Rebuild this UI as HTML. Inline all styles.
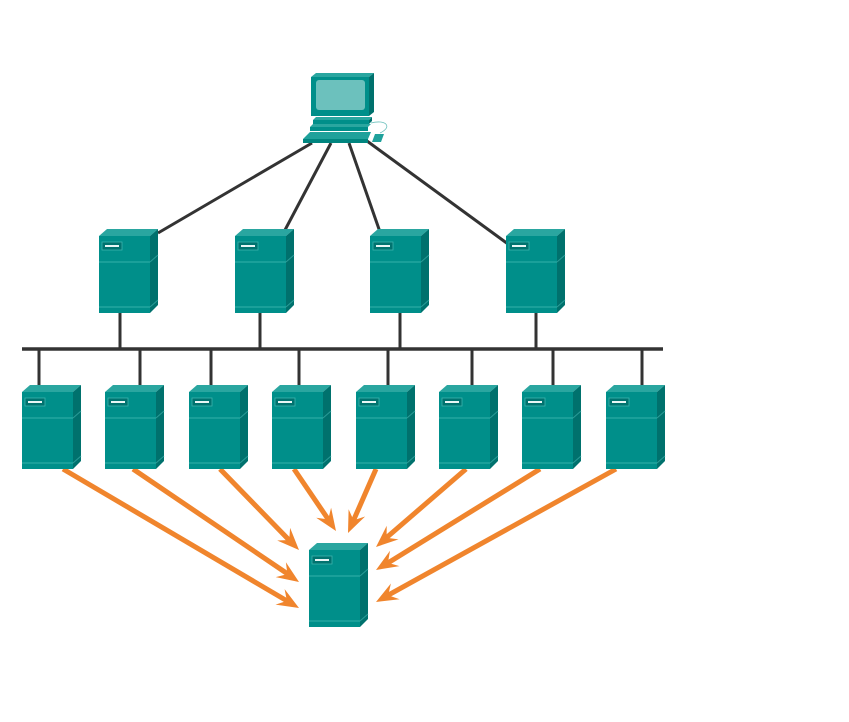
<!DOCTYPE html>
<html><head><meta charset="utf-8"><style>html,body{margin:0;padding:0;background:#fff}svg{display:block}</style></head>
<body>
<svg width="849" height="722" viewBox="0 0 849 722" xmlns="http://www.w3.org/2000/svg">
<defs>
<g id="srv">
  <polygon points="0,7 8,0 59,0 51,7" fill="#2aa6a0"/>
  <polygon points="51,7 59,0 59,76 51,84" fill="#00716d"/>
  <rect x="0" y="7" width="51" height="77" fill="#008f8a"/>
  <line x1="0" y1="33" x2="51" y2="33" stroke="#35b0aa" stroke-width="1"/>
  <line x1="51" y1="33" x2="59" y2="26" stroke="#2a9c97" stroke-width="1"/>
  <line x1="0" y1="78" x2="51" y2="78" stroke="#35b0aa" stroke-width="1"/>
  <line x1="51" y1="78" x2="59" y2="71" stroke="#2a9c97" stroke-width="1"/>
  <rect x="3" y="13" width="20" height="8" fill="#00736f" stroke="#3db3ad" stroke-width="0.8"/>
  <rect x="6" y="16" width="14" height="2" fill="#e8f6f5"/>
</g>
</defs>

<!-- dark connections -->
<g stroke="#333" stroke-width="3" fill="none">
  <line x1="312" y1="143" x2="158" y2="233"/>
  <line x1="331" y1="143" x2="285" y2="230"/>
  <line x1="349" y1="143" x2="380" y2="232"/>
  <line x1="367" y1="141" x2="508" y2="244"/>
  <line x1="22" y1="349" x2="663" y2="349" stroke-width="3.5"/>
  <line x1="120" y1="310" x2="120" y2="349"/>
  <line x1="260" y1="310" x2="260" y2="349"/>
  <line x1="400" y1="310" x2="400" y2="349"/>
  <line x1="536" y1="310" x2="536" y2="349"/>
  <line x1="39" y1="349" x2="39" y2="390"/>
  <line x1="140" y1="349" x2="140" y2="390"/>
  <line x1="211" y1="349" x2="211" y2="390"/>
  <line x1="299" y1="349" x2="299" y2="390"/>
  <line x1="388" y1="349" x2="388" y2="390"/>
  <line x1="472" y1="349" x2="472" y2="390"/>
  <line x1="553" y1="349" x2="553" y2="390"/>
  <line x1="642" y1="349" x2="642" y2="390"/>
</g>

<!-- orange arrows -->
<g stroke="#f0852d" stroke-width="5" fill="none">
  <line x1="63" y1="469" x2="288" y2="601.5"/>
  <line x1="133" y1="469" x2="288.5" y2="574.5"/>
  <line x1="220" y1="469" x2="290" y2="541"/>
  <line x1="294" y1="469" x2="329" y2="520.5"/>
  <line x1="376" y1="469" x2="353" y2="521.5"/>
  <line x1="466" y1="469" x2="385.5" y2="538.5"/>
  <line x1="540" y1="469" x2="387" y2="563.5"/>
  <line x1="616" y1="469" x2="387" y2="595.8"/>
</g>
<g fill="#f0852d">
  <polygon points="299,608 275.5,604.6 286.9,600.9 284.6,589.1"/>
  <polygon points="299,582 275.7,577.1 287.4,574.1 285.9,562.2"/>
  <polygon points="299,550 277.2,540.5 289.2,540.0 290.1,527.9"/>
  <polygon points="336,531 316.2,517.8 328.2,519.4 331.1,507.7"/>
  <polygon points="348,533 348.6,509.2 353.6,520.2 365.1,516.5"/>
  <polygon points="376,547 386.7,525.8 386.6,537.8 398.5,539.4"/>
  <polygon points="376,570 390.0,550.8 387.9,562.7 399.4,566.1"/>
  <polygon points="376,602 390.9,583.5 388.2,595.2 399.6,599.2"/>
</g>

<!-- top servers -->
<use href="#srv" x="99" y="229"/>
<use href="#srv" x="235" y="229"/>
<use href="#srv" x="370" y="229"/>
<use href="#srv" x="506" y="229"/>

<!-- bottom row servers -->
<use href="#srv" x="22" y="385"/>
<use href="#srv" x="105" y="385"/>
<use href="#srv" x="189" y="385"/>
<use href="#srv" x="272" y="385"/>
<use href="#srv" x="356" y="385"/>
<use href="#srv" x="439" y="385"/>
<use href="#srv" x="522" y="385"/>
<use href="#srv" x="606" y="385"/>

<!-- destination server -->
<use href="#srv" x="309" y="543"/>

<!-- PC -->
<g>
  <polygon points="311,77 316,73 374,73 369,77" fill="#2aa6a0"/>
  <polygon points="369,77 374,73 374,112 369,116" fill="#00716d"/>
  <rect x="311" y="77" width="58" height="39" fill="#008f8a"/>
  <rect x="316" y="80" width="49" height="30" rx="3" fill="#6cc1bd"/>
  <polygon points="313,120 316,117 372,117 369,120" fill="#2aa6a0"/>
  <rect x="313" y="120" width="56" height="4" fill="#008f8a"/>
  <polygon points="369,120 372,117 372,121 369,124" fill="#00716d"/>
  <polygon points="310,127 313,124 371,124 368,127" fill="#2aa6a0"/>
  <rect x="310" y="127" width="58" height="4" fill="#008f8a"/>
  <polygon points="303,139 310,132 371,132 368,139" fill="#1fa19b"/>
  <polygon points="303,139 368,139 368,143 303,143" fill="#00857f"/>
  <polygon points="372,142 375,134 384,134 381,142" fill="#1fa19b"/>
  <path d="M371,123 C386,119 393,127 380,133" stroke="#6cc1bd" stroke-width="0.8" fill="none"/>
</g>
</svg>
</body></html>
